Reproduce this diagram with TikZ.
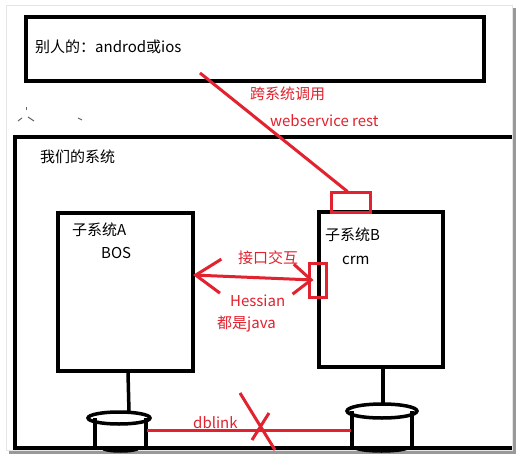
\documentclass[tikz,border=0pt]{standalone}
\usepackage{fontspec}
\setmainfont{Noto Sans CJK SC}
\usetikzlibrary{arrows.meta,calc}
\definecolor{linkred}{RGB}{226,34,46}

\tikzset{
  sysbox/.style={draw, line width=3.5pt, inner sep=0pt},
  portbox/.style={draw=linkred, line width=3pt, inner sep=0pt},
  txt/.style={font=\fontsize{15}{18}\selectfont, inner sep=0pt, anchor=west},
  redtxt/.style={txt, text=linkred},
  redline/.style={draw=linkred, line width=3pt},
  dbline/.style={line width=3.5pt}
}

\begin{document}
\begin{tikzpicture}[x=1pt,y=-1pt]
\useasboundingbox (0,0) rectangle (519,457);
% screenshot frame
\fill [white] (0,0) rectangle (519,457);
\fill [black!40] (9,8) rectangle (516,454);
\fill [white, draw=black!10] (6,5) rectangle (512,450);

% outside system
\node [sysbox, minimum width=458pt, minimum height=64pt] (other) at (255,49) {};
\node [txt] (othertxt) at (35,47) {别人的：androd或ios};

% stray marks
\draw [black!60, line width=1pt] (26,107) -- (26,110);
\draw [black!60, line width=1pt] (18,121) -- (22,118) (28,117) -- (34,121) (78,118) -- (82,120);

% our system
\draw [line width=3.5pt] (512,137) -- (15,137) -- (15,448) -- (512,448);
\node [txt] (ourtxt) at (40,157) {我们的系统};

% subsystems
\node [sysbox, minimum width=135pt, minimum height=158pt] (boxA) at (125.5,292) {};
\node [sysbox, minimum width=124pt, minimum height=155pt] (boxB) at (381,289.5) {};
\node [txt] (nameA) at (72,230) {子系统A};
\node [txt] (tagA) at (101,253) {BOS};
\node [txt] (nameB) at (325,235) {子系统B};
\node [txt] (tagB) at (342,260) {crm};

% ports
\node [portbox, minimum width=39pt, minimum height=19pt] (wsport) at (350.5,202.5) {};
\node [portbox, minimum width=17pt, minimum height=34pt] (hsport) at (317.5,280) {};

% webservice call
\coordinate (callstart) at (200,73);
\draw [redline] (callstart) -- ($(wsport.north)+(-3,0)$);
\node [redtxt] (calltxt) at (250,94) {跨系统调用};
\node [redtxt] (wstxt) at (270,121) {webservice rest};

% hessian
\coordinate (hstip) at (193,275);
\draw [redline, {Straight Barb[length=25pt,width=34pt]}-{Straight Barb[length=18pt,width=30pt]}]
  (hstip) -- ($(hsport.center)+(-4,0)$);
\node [redtxt] (hstxt1) at (238,258) {接口交互};
\node [redtxt] (hstxt2) at (230,301) {Hessian};
\node [redtxt] (hstxt3) at (217,324) {都是java};

% databases
\coordinate (dbA) at (129,412);
\coordinate (dbB) at (383,404);
\draw [dbline] ($(boxA.south)+(2.5,0)$) -- (dbA);
\draw [dbline] ($(boxB.south)+(2,0)$) -- (dbB);
\draw [dbline] (119,418) ellipse [x radius=31, y radius=6];
\draw [dbline] (95,418) -- (95,448) (146,418) -- (146,448);
\draw [dbline] (103,448) arc [start angle=180, end angle=0, x radius=17.5, y radius=3];
\draw [dbline] (382,411) ellipse [x radius=35, y radius=7];
\draw [dbline] (352,411) -- (352,448) (412,411) -- (412,448);
\draw [dbline] (355,447) arc [start angle=180, end angle=0, x radius=26.5, y radius=4];

% dblink
\coordinate (linkA) at (147,430);
\coordinate (linkB) at (351,430);
\draw [redline] (linkA) -- (linkB);
\node [redtxt] (linktxt) at (193,423) {dblink};
\draw [redline] (240,393) -- (275,450) (269,413) -- (252,440);
\end{tikzpicture}
\end{document}
